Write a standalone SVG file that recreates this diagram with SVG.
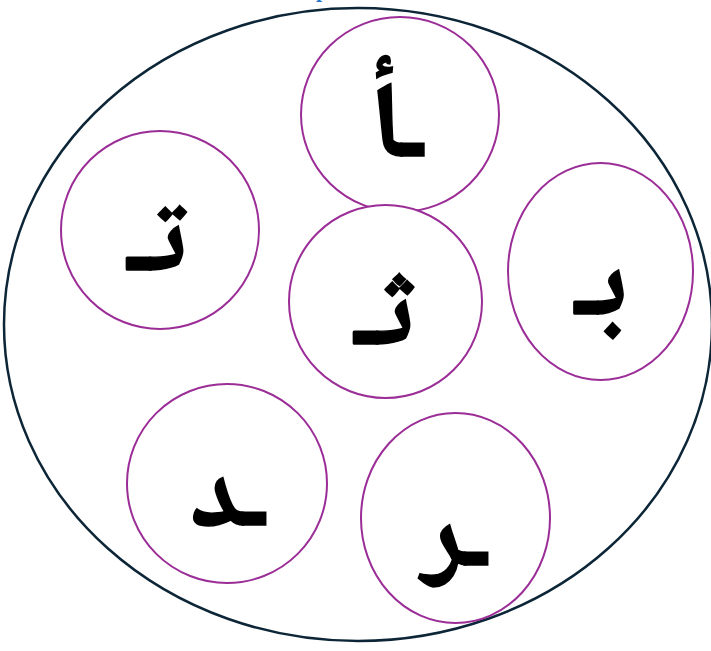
<svg xmlns="http://www.w3.org/2000/svg" width="711" height="651" viewBox="0 0 711 651">
<style>
.c{fill:#fff;stroke:#9B2D97;stroke-width:2}
.t{font-family:"Noto Naskh Arabic","Noto Sans Arabic","DejaVu Sans",sans-serif;font-weight:900;font-size:108px;fill:#000;stroke:#000;stroke-width:1.5;stroke-linejoin:miter;text-anchor:middle}
</style>
<rect width="711" height="651" fill="#fff"/>
<text x="316" y="-3" font-family="Liberation Serif,serif" font-size="22" font-weight="bold" fill="#1F78C8">p</text>
<ellipse id="outer" cx="358" cy="324.5" rx="354" ry="316.5" fill="none" stroke="#0D2637" stroke-width="2.5"/>
<g id="n-alef"><ellipse class="c" cx="400" cy="114.5" rx="99" ry="97.5"/><text class="t" x="399" y="157" direction="rtl">ـأ</text></g>
<g id="n-ta"><ellipse class="c" cx="160" cy="230" rx="99" ry="99"/><text class="t" x="157" y="271" direction="rtl">تـ</text></g>
<g id="n-tha"><ellipse class="c" cx="385.5" cy="301.5" rx="96.5" ry="96.5"/><text class="t" x="384" y="345" direction="rtl">ثـ</text></g>
<g id="n-ba"><ellipse class="c" cx="600.5" cy="271.5" rx="92.5" ry="108.5"/><text class="t" x="601" y="315" direction="rtl">بـ</text></g>
<g id="n-dal"><ellipse class="c" cx="227" cy="483.5" rx="100" ry="99.5"/><text class="t" x="230" y="526" direction="rtl">ـد</text></g>
<g id="n-ra"><ellipse class="c" cx="455.5" cy="518" rx="94.5" ry="105"/><text class="t" x="457" y="566" direction="rtl">ـر</text></g>
<g id="connectors"/>
</svg>
